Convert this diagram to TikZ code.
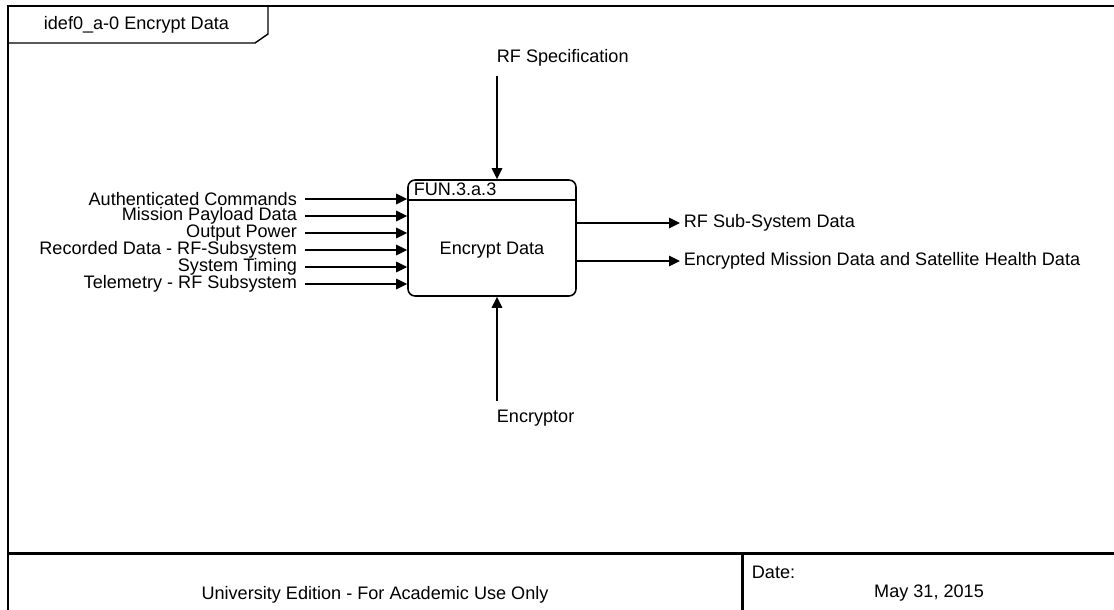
\documentclass[tikz,border=0pt]{standalone}
\usepackage{fontspec}
\setmainfont{Liberation Sans}
\usetikzlibrary{arrows.meta,positioning,calc}
\tikzset{
  funcbox/.style={
    draw,
    line width=0.9pt,
    rounded corners=4pt,
    minimum width=3.36cm,
    minimum height=2.32cm,
    inner sep=0pt
  },
  flowlabel/.style={
    font=\fontsize{10.3}{11}\selectfont,
    inner sep=2pt
  },
  frameline/.style={
    line width=1.7pt
  },
  arrow/.style={
    -{Triangle[length=2.2mm,width=2.1mm]},
    line width=0.8pt
  }
}

\begin{document}
\begin{tikzpicture}[x=0.02cm,y=-0.02cm]
\useasboundingbox (0,0) rectangle (1114,609);
% frame
\draw[frameline] (1120,6) -- (8,6) -- (8,615);
\draw[frameline] (8,553) -- (1120,553);
\draw[frameline] (742,553) -- (742,615);
% tab
\draw[line width=0.8pt] (268,6) -- (268,34) -- (255,43) -- (8,43);
\node[flowlabel, anchor=west] (tab) at (40,25) {idef0\_a-0 Encrypt Data};
% function box
\node[funcbox] (encrypt) at (492,238) {};
\node[flowlabel] (name) at (encrypt.center) [yshift=-0.24cm] {Encrypt Data};
\node[flowlabel, anchor=west] (funid) at (410,189) {FUN.3.a.3};
\draw[line width=0.8pt] (encrypt.west |- 0,200) -- (encrypt.east |- 0,200);
% inputs
\foreach \y/\txt/\n in {199/Authenticated Commands/a,216/Mission Payload Data/b,
    233/Output Power/c,250/Recorded Data - RF-Subsystem/d,
    267/System Timing/e,284/Telemetry - RF Subsystem/f} {
  \node[flowlabel, inner sep=1pt, anchor=east] (in\n) at (299,\y) {\txt};
  \draw[arrow] ([xshift=0.12cm]in\n.east) -- (in\n.east -| encrypt.west);
}
% outputs
\node[flowlabel, anchor=west] (outa) at (680,223) {RF Sub-System Data};
\node[flowlabel, anchor=west] (outb) at (680,261) {Encrypted Mission Data and Satellite Health Data};
\foreach \n in {outa,outb} {
  \draw[arrow] (encrypt.east |- \n.west) -- (\n.west);
}
% control and mechanism
\node[flowlabel, anchor=west] (ctrl) at (493,58) {RF Specification};
\node[flowlabel, anchor=west] (mech) at (493,418) {Encryptor};
\coordinate (ctrltop) at (497,76);
\coordinate (mechbot) at (497,401);
\draw[arrow] (ctrltop) -- (ctrltop |- encrypt.north);
\draw[arrow] (mechbot) -- (mechbot |- encrypt.south);
% footer
\node[flowlabel] (edition) at (375,595) {University Edition - For Academic Use Only};
\node[flowlabel, anchor=west] (datelbl) at (748,572) {Date:};
\node[flowlabel] (date) at (929,593) {May 31, 2015};
\end{tikzpicture}
\end{document}
